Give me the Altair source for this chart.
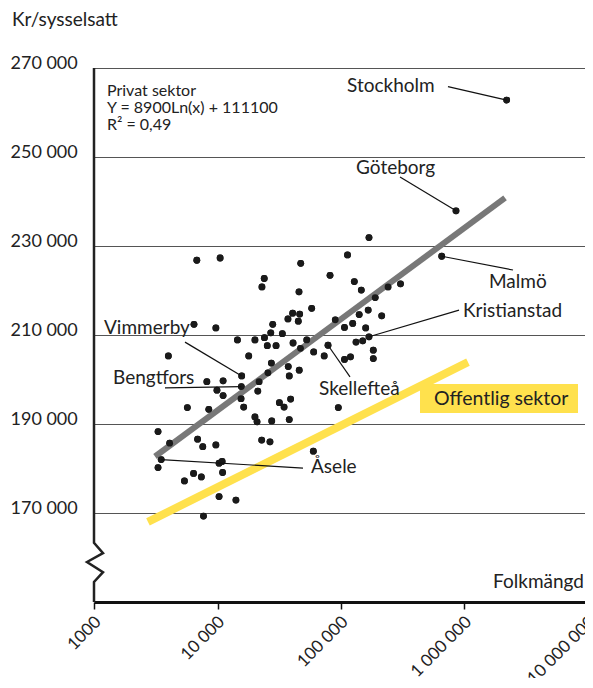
import altair as alt
import pandas as pd

# ---- data ----
pop = [6800, 10500, 47200, 81500, 23900, 22900, 45700, 57900, 40600, 46300,
       37200, 45100, 89900, 6450, 9700, 28000, 27000, 33500, 14500, 20100,
       24000, 25300, 29800, 40900, 52800, 47000, 60100, 73100, 78500, 4000,
       17900, 27300, 37400, 45900, 25600, 38100, 15700, 8200, 11100, 15600,
       21700, 9900, 11100, 21200, 15500, 16300, 5700, 8500, 31700, 34600,
       39100, 20100, 20900, 27500, 38100, 3300, 4100, 6900, 7600, 9700,
       22800, 26600, 59700, 3500, 3300, 10300, 10900, 6400, 7400, 5400,
       11000, 10300, 14100, 7700, 168500, 112900, 128200, 146000, 240300, 303300,
       189200, 166000, 140400, 213600, 106700, 124400, 158500, 168500, 149900, 132300,
       182600, 182600, 106700, 119400, 95100, 654000, 853500, 2196000]
val = [226800, 227300, 226100, 223400, 222700, 220800, 219700, 216000, 214900, 214700,
       213600, 213100, 213400, 212400, 211600, 212400, 210500, 210300, 208900, 208900,
       209400, 207600, 207600, 208200, 208900, 207000, 206200, 205300, 207700, 205300,
       205300, 203700, 202900, 202100, 201500, 200800, 200800, 199500, 199700, 198400,
       199500, 197600, 196400, 197400, 195700, 193800, 193700, 193300, 194800, 193800,
       195600, 191600, 190500, 190700, 191000, 188300, 185700, 186600, 184900, 185300,
       186400, 186000, 183900, 182000, 180200, 181200, 181600, 178900, 178100, 177200,
       179100, 173700, 172900, 169300, 231900, 228000, 222000, 220100, 220800, 221500,
       218400, 215600, 214600, 214300, 211700, 212600, 211600, 209600, 208700, 208400,
       206600, 204700, 204500, 205100, 193700, 227700, 237900, 262800]

# fitted lines (end points)
privat_pop = [3120, 2130000]
privat_val = [182700, 240800]
offentlig_pop = [2735, 1067000]
offentlig_val = [168000, 203900]

# named municipalities: label anchor, leader start, point
names = ["Stockholm", "Göteborg", "Malmö", "Kristianstad", "Skellefteå", "Vimmerby", "Bengtfors", "Åsele"]
label_pop = [112000, 132300, 1579000, 972600, 66350, 1205, 1425, 57170]
label_val = [265900, 247500, 221900, 215400, 197900, 211600, 200300, 180300]
lead_pop = [735000, 300500, 2470000, 902800, 118300, 5456, 3757, 49240]
lead_val = [265800, 245500, 224600, 215600, 200600, 208400, 198100, 180100]
city_pop = [2196000, 853500, 654000, 168500, 78500, 15700, 15600, 3500]
city_val = [262800, 237900, 227700, 209600, 207700, 200800, 198400, 182000]

y_ticks = [170000, 190000, 210000, 230000, 250000, 270000]
x_ticks = [1000, 10000, 100000, 1000000, 10000000]

# axis break (zig-zag) path on the value axis
brk_pop = [1000, 1000, 1183, 878, 1183, 1000, 1000]
brk_val = [270000, 163300, 161000, 159000, 156700, 154500, 150000]

# "Offentlig sektor" box
box_pop = [436200, 8299000]
box_val = [192500, 199000]
box_text_pop = 566000
box_text_val = 195600

eq_lines = ["Privat sektor", "Y = 8900Ln(x) + 111100", "R² = 0,49"]

FONT = "Lato"
W, H = 494, 534

xs = alt.Scale(type="log", domain=[1000, 10000000], nice=False)
ys = alt.Scale(domain=[150000, 270000], nice=False, zero=False)

x_label_expr = ("datum.value == 1000 ? '1000' : datum.value == 10000 ? '10 000' : "
                "datum.value == 100000 ? '100 000' : datum.value == 1000000 ? '1 000  000' : '10 000  000'")

x_axis = alt.Axis(
    values=x_ticks, labelExpr=x_label_expr, grid=False, title=None,
    domainColor="#111", domainWidth=3, tickColor="#111", tickWidth=1.5, tickSize=7,
    labelAngle=-45, labelAlign="right", labelBaseline="middle", labelPadding=10,
    labelOffset=4, labelFont=FONT, labelFontSize=17, labelColor="#222")
y_axis = alt.Axis(
    values=y_ticks, labelExpr="format(datum.value / 1000, 'd') + ' 000'",
    grid=True, gridColor="#555", gridWidth=1.2, domain=False, ticks=False, tickSize=0,
    labelPadding=84, labelAlign="left", labelBaseline="alphabetic",
    labelFont=FONT, labelFontSize=18, labelColor="#222", title=None)


def xy():
    return dict(x=alt.X("pop:Q", scale=xs, axis=x_axis),
                y=alt.Y("val:Q", scale=ys, axis=y_axis))


pts = pd.DataFrame({"pop": pop, "val": val})
points = alt.Chart(pts).mark_circle(size=46, color="#1a1a1a", opacity=1).encode(**xy())

off_line = alt.Chart(pd.DataFrame({"pop": offentlig_pop, "val": offentlig_val})).mark_line(
    color="#FFE14D", strokeWidth=8, strokeCap="butt").encode(**xy())
priv_line = alt.Chart(pd.DataFrame({"pop": privat_pop, "val": privat_val})).mark_line(
    color="#787878", strokeWidth=6, strokeCap="butt").encode(**xy())

brk = alt.Chart(pd.DataFrame({"pop": brk_pop, "val": brk_val, "o": list(range(len(brk_pop)))})).mark_line(
    color="#222", strokeWidth=2.5).encode(order="o:O", **xy())

lead_rows = []
for i, n in enumerate(names):
    lead_rows.append({"name": n, "pop": lead_pop[i], "val": lead_val[i], "o": 0})
    lead_rows.append({"name": n, "pop": city_pop[i], "val": city_val[i], "o": 1})
leaders = alt.Chart(pd.DataFrame(lead_rows)).mark_line(color="#111", strokeWidth=1.2).encode(
    detail="name:N", order="o:O", **xy())

labels = alt.Chart(pd.DataFrame({"name": names, "pop": label_pop, "val": label_val})).mark_text(
    align="left", baseline="middle", font=FONT, fontSize=19, color="#222").encode(
    text="name:N", **xy())

box = alt.Chart(pd.DataFrame({"pop": [box_pop[0]], "pop2": [box_pop[1]],
                              "val": [box_val[0]], "val2": [box_val[1]]})).mark_rect(
    color="#FFE14D").encode(x2="pop2:Q", y2="val2:Q", **xy())
box_text = alt.Chart(pd.DataFrame({"pop": [box_text_pop], "val": [box_text_val],
                                   "t": ["Offentlig sektor"]})).mark_text(
    align="left", baseline="middle", font=FONT, fontSize=19.5, color="#222").encode(text="t:N", **xy())


def fixed_text(t, x, y, size, align="left"):
    return alt.Chart(pd.DataFrame({"t": [t]})).mark_text(
        align=align, baseline="middle", font=FONT, fontSize=size, color="#222").encode(
        text="t:N", x=alt.value(x), y=alt.value(y))


eq_layers = [fixed_text(t, 13, yy, 16) for t, yy in zip(eq_lines, [23, 40, 57])]
ytitle = fixed_text("Kr/sysselsatt", -82, -48, 19)
xtitle = fixed_text("Folkmängd", 490, 514, 19, align="right")

chart = alt.layer(points, off_line, priv_line, box, box_text, points, leaders, labels, brk,
                  *eq_layers, ytitle, xtitle).properties(
    width=W, height=H,
    autosize=alt.AutoSizeParams(type="none"),
    padding={"left": 86, "top": 60, "right": -3, "bottom": 76},
).configure_view(stroke=None)

chart.save("out.html", embed_options={"renderer": "svg", "actions": False})
